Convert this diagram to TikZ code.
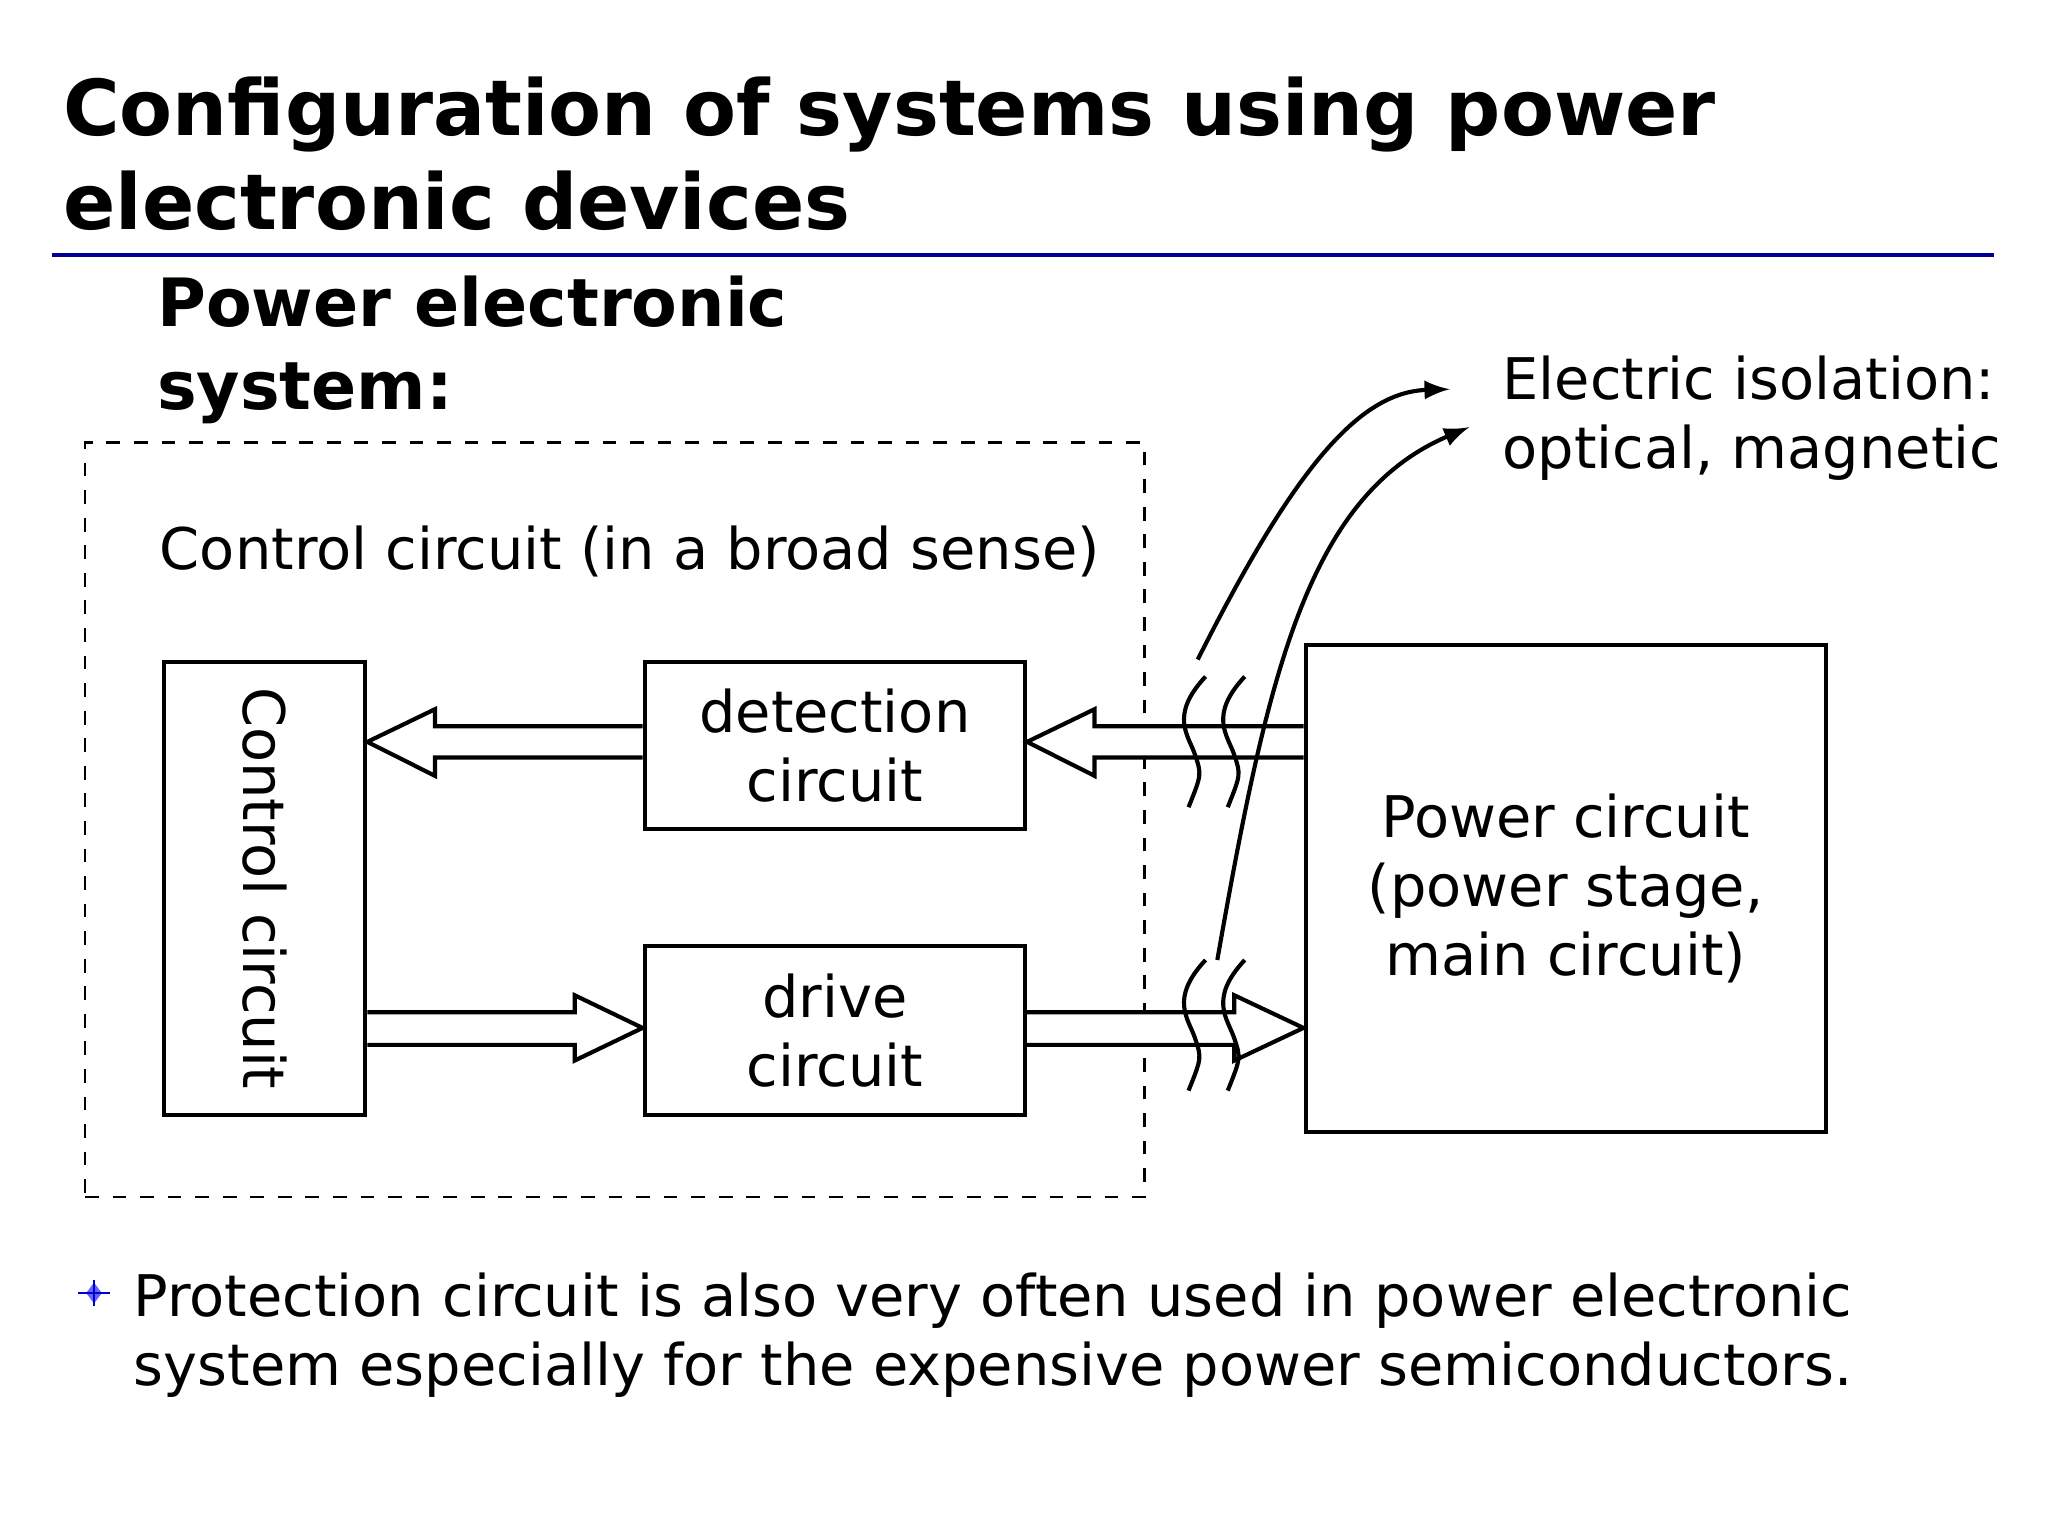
\documentclass[tikz,border=0pt]{standalone}
\usepackage{fontspec}
\setmainfont{DejaVu Sans}
\begin{document}
\begin{tikzpicture}[x=0.01cm,y=-0.01cm,
  box/.style={draw,line width=0.9pt,inner sep=0pt},
  fat/.style={draw,fill=white,line width=0.9pt,line join=miter},
  sq/.style={line width=0.9pt},
  txt/.style={font=\fontsize{12.5}{15}\selectfont,align=center}]
\useasboundingbox (0,0) rectangle (1568,1176);
\node[anchor=west,font=\bfseries\fontsize{16.8}{20.5}\selectfont,align=left] (title) at (36,118) {Configuration of systems using power\\electronic devices};
\draw[blue!60!black,line width=0.8pt] (40,195) -- (1527,195);
\node[anchor=west,font=\bfseries\fontsize{14.5}{18}\selectfont,align=left] (pes) at (108,268) {Power electronic\\system:};
\node[box,dashed,line width=0.6pt,minimum width=8.11cm,minimum height=5.77cm,anchor=north west] (dash) at (64,338) {};
\node[txt,anchor=west] (cc) at (110,422) {Control circuit (in a broad sense)};
\node[box,minimum width=1.54cm,minimum height=3.47cm,anchor=north west] (ctrl) at (124,505) {};
\node[txt,rotate=-90] (ctrlt) at (ctrl.center) {Control circuit};
\node[box,txt,minimum width=2.91cm,minimum height=1.28cm,anchor=north west] (det) at (492,505) {detection\\circuit};
\node[box,txt,minimum width=2.91cm,minimum height=1.29cm,anchor=north west] (drv) at (492,723) {drive\\circuit};
\node[box,txt,minimum width=3.98cm,minimum height=3.73cm,anchor=north west] (pow) at (998,492) {Power circuit\\(power stage,\\main circuit)};
\node[txt,anchor=west,align=left] (iso) at (1138,320) {Electric isolation:\\optical, magnetic};
% fat arrows
\draw[fat] (det.west|-0,556) -- (333,556) -- (333,543) -- (ctrl.east|-0,568) -- (333,594) -- (333,580) -- (det.west|-0,580);
\draw[fat] (ctrl.east|-0,775) -- (440,775) -- (440,762) -- (drv.west|-0,787) -- (440,812) -- (440,800) -- (ctrl.east|-0,800);
\draw[fat] (pow.west|-0,556) -- (838,556) -- (838,543) -- (det.east|-0,568) -- (838,594) -- (838,580) -- (pow.west|-0,580);
\draw[fat] (drv.east|-0,775) -- (945,775) -- (945,762) -- (pow.west|-0,787) -- (945,812) -- (945,800) -- (drv.east|-0,800);
% squiggles
\foreach \x in {915,945}{
  \foreach \y in {518,735}{
    \draw[sq] (\x+8,\y) .. controls (\x-20,\y+30) and (\x-5,\y+45) .. (\x,\y+60) .. controls (\x+5,\y+75) .. (\x-5,\y+100);
  }
}
% isolation curves
\coordinate (a1) at (917,505);
\coordinate (a2) at (932,735);
\draw[sq,-latex] (a1) .. controls (990,360) and (1040,300) .. (1110,298);
\draw[sq,-latex] (a2) .. controls (970,520) and (1000,380) .. (1125,327);
% bullet
\fill[blue!60] (72,982) -- (78,990) -- (72,998) -- (66,990) -- cycle;
\draw[blue!80!black,line width=0.6pt] (60,990) -- (84,990) (72,980) -- (72,1000);
\node[txt,anchor=north west,align=left] (prot) at (90,962) {Protection circuit is also very often used in power electronic\\system especially for the expensive power semiconductors.};
\end{tikzpicture}
\end{document}
